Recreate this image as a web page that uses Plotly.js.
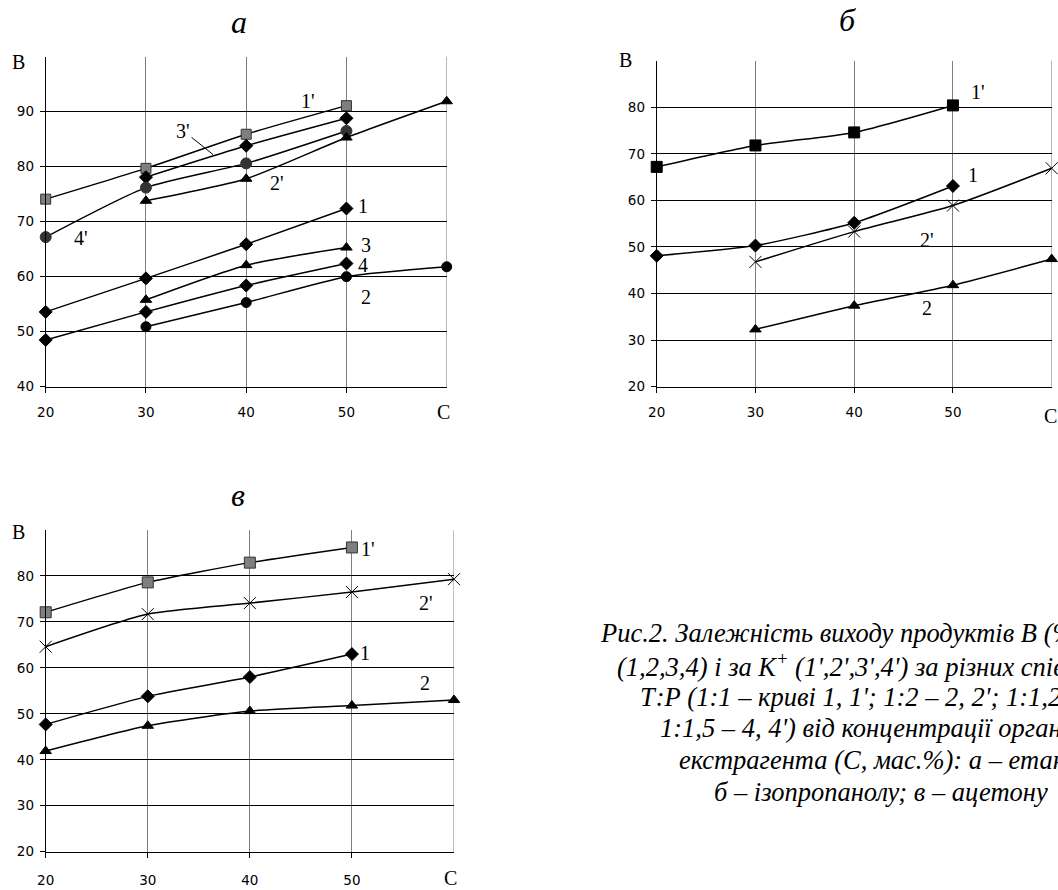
<!DOCTYPE html>
<html>
<head>
<meta charset="utf-8">
<script src="https://cdn.plot.ly/plotly-3.0.1.min.js"></script>
<style>html,body{margin:0;padding:0;background:#fff;overflow:hidden;}#chart{width:1058px;height:890px;}</style>
</head>
<body>
<div id="chart"></div>
<script>
// Concentration of extractant, C (mass %)
const conc = [20, 30, 40, 50, 60];
const xTickVals = [20, 30, 40, 50];
const xTickText = ['20', '30', '40', '50'];
const yTicksA = [40, 50, 60, 70, 80, 90];
const yTicksBV = [20, 30, 40, 50, 60, 70, 80];

// а – ethanol
const a1  = [53.6, 59.7, 65.9, 72.4, null];
const a2  = [null, 50.9, 55.3, 60.0, 61.8];
const a3  = [null, 55.8, 62.1, 65.3, null];
const a4  = [48.5, 53.6, 58.4, 62.4, null];
const a1p = [74.1, 79.7, 85.9, 91.1, null];
const a2p = [null, 73.8, 77.8, 85.3, 91.9];
const a3p = [null, 78.1, 83.8, 88.8, null];
const a4p = [67.2, 76.2, 80.6, 86.5, null];

// б – isopropanol
const b1  = [48.1, 50.3, 55.2, 63.1, null];
const b2  = [null, 32.3, 37.4, 41.8, 47.4];
const b1p = [67.2, 71.8, 74.6, 80.4, null];
const b2p = [null, 46.8, 53.3, 58.9, 66.9];

// в – acetone
const v1  = [47.7, 53.8, 58.0, 63.0, null];
const v2  = [41.9, 47.4, 50.6, 51.8, 53.0];
const v1p = [72.1, 78.6, 82.9, 86.2, null];
const v2p = [64.6, 71.7, 74.1, 76.5, 79.3];

const captionLines = [
  "Рис.2. Залежність виходу продуктів В (%) за К",
  "(1,2,3,4) і за К<sup>+</sup> (1',2',3',4') за різних співвідношень",
  "Т:Р (1:1 – криві 1, 1'; 1:2 – 2, 2'; 1:1,2 – 3, 3';",
  "1:1,5 – 4, 4') від концентрації органічного",
  "екстрагента (С, мас.%): а – етанолу;",
  "б – ізопропанолу; в – ацетону"
];

const W = 1058, H = 890;
const px = v => v / W;
const py = v => 1 - v / H;
const serif = 'Liberation Serif, Times New Roman, serif';
const sans = 'DejaVu Sans, Liberation Sans, Arial, sans-serif';

function series(y, sym, xa, ya, fill, outline, size) {
  const open = sym === 'x-thin';
  return {
    x: conc, y: y, xaxis: xa, yaxis: ya, type: 'scatter', mode: 'lines+markers',
    line: {color: '#000', width: 1.5, shape: 'spline', smoothing: 0.6},
    marker: open ? {symbol: 'x-thin-open', size: size || 12, line: {color: '#000', width: 1}}
                 : {symbol: sym, size: size || 10, color: fill, line: {color: outline, width: 1}},
    cliponaxis: false, showlegend: false, hoverinfo: 'x+y'
  };
}

const traces = [
  series(a1p, 'square', 'x', 'y', '#7f7f7f', '#333', 10),
  series(a3p, 'diamond', 'x', 'y', '#000', '#000', 10),
  series(a4p, 'circle', 'x', 'y', '#333', '#333', 11),
  series(a2p, 'triangle-up', 'x', 'y', '#000', '#000', 10),
  series(a1, 'diamond', 'x', 'y', '#000', '#000', 10),
  series(a3, 'triangle-up', 'x', 'y', '#000', '#000', 10),
  series(a4, 'diamond', 'x', 'y', '#000', '#000', 10),
  series(a2, 'circle', 'x', 'y', '#000', '#000', 10),

  series(b1p, 'square', 'x2', 'y2', '#000', '#000', 11),
  series(b1, 'diamond', 'x2', 'y2', '#000', '#000', 10),
  series(b2p, 'x-thin', 'x2', 'y2'),
  series(b2, 'triangle-up', 'x2', 'y2', '#000', '#000', 10),

  series(v1p, 'square', 'x3', 'y3', '#7f7f7f', '#333', 11),
  series(v2p, 'x-thin', 'x3', 'y3'),
  series(v1, 'diamond', 'x3', 'y3', '#000', '#000', 10),
  series(v2, 'triangle-up', 'x3', 'y3', '#000', '#000', 10)
];

function xAxis(domain, anchor, standoff) {
  return {
    domain: domain, anchor: anchor, range: [20, 60], tickvals: xTickVals, ticktext: xTickText,
    showgrid: true, gridcolor: '#808080', gridwidth: 1, zeroline: false,
    showline: true, linecolor: '#000', linewidth: 1, ticks: 'outside', ticklen: 5, tickcolor: '#000',
    ticklabelstandoff: standoff, tickfont: {family: sans, size: 13.5, color: '#000'}, fixedrange: true
  };
}
function yAxis(domain, anchor, range, ticks) {
  return {
    domain: domain, anchor: anchor, range: range, tickvals: ticks,
    showgrid: true, gridcolor: '#000', gridwidth: 1, zeroline: false,
    showline: true, linecolor: '#000', linewidth: 1, ticks: 'outside', ticklen: 5, tickcolor: '#000',
    ticklabelstandoff: 3, tickfont: {family: sans, size: 13.5, color: '#000'}, fixedrange: true
  };
}

// right-hand frame line at C = 60
function rightEdge(xr, yr) {
  return {type: 'line', xref: xr, yref: yr + ' domain', x0: 60, x1: 60, y0: 0, y1: 1,
    line: {color: '#808080', width: 1}, layer: 'below'};
}

const ann = [];
function label(text, x, y, xr, yr, size) {
  ann.push({text: text, x: x, y: y, xref: xr, yref: yr, showarrow: false,
    font: {family: serif, size: size || 20, color: '#000'}, xanchor: 'center', yanchor: 'middle'});
}
// panel titles
label('<i>а</i>', px(239), py(22), 'paper', 'paper', 32);
label('<i>б</i>', px(847), py(20), 'paper', 'paper', 32);
label('<i>в</i>', px(238), py(495), 'paper', 'paper', 32);
// axis letters
label('B', px(18), py(62), 'paper', 'paper', 20);
label('C', px(443), py(412), 'paper', 'paper', 20);
label('B', px(625), py(60), 'paper', 'paper', 20);
label('C', px(1050), py(416), 'paper', 'paper', 20);
label('B', px(18), py(532), 'paper', 'paper', 20);
label('C', px(450), py(878), 'paper', 'paper', 20);
// curve labels, panel а
label("1'", 46.2, 92.0, 'x', 'y');
label("2'", 43.1, 77.0, 'x', 'y');
label("4'", 23.5, 67.0, 'x', 'y');
label('1', 51.7, 72.8, 'x', 'y');
label('3', 51.9, 65.7, 'x', 'y');
label('4', 51.7, 62.1, 'x', 'y');
label('2', 51.9, 56.3, 'x', 'y');
ann.push({text: "3'", x: 36.7, y: 82.2, xref: 'x', yref: 'y', showarrow: true, arrowhead: 0,
  arrowwidth: 1, arrowcolor: '#000', ax: -30, ay: -24, standoff: 0, startstandoff: 0,
  font: {family: serif, size: 20, color: '#000'}});
// panel б
label("1'", 52.5, 83.2, 'x2', 'y2');
label('1', 52.0, 65.4, 'x2', 'y2');
label("2'", 47.4, 51.6, 'x2', 'y2');
label('2', 47.4, 36.8, 'x2', 'y2');
// panel в
label("1'", 51.6, 85.9, 'x3', 'y3');
label("2'", 57.3, 74.1, 'x3', 'y3');
label('1', 51.3, 63.2, 'x3', 'y3');
label('2', 57.2, 56.7, 'x3', 'y3');

// caption (left-aligned lines, running past the right edge as in the scan)
const capX = [598, 615, 638, 658, 677, 712];
const capY = [633, 665, 697, 728, 760, 792];
captionLines.forEach((t, i) => {
  ann.push({text: '<i>' + t + '</i>', x: px(capX[i]), y: py(capY[i]), xref: 'paper', yref: 'paper',
    showarrow: false, xanchor: 'left', yanchor: 'middle', font: {family: serif, size: 26.5, color: '#000'}});
});

const layout = {
  width: W, height: H, margin: {l: 0, r: 0, t: 0, b: 0},
  paper_bgcolor: '#fff', plot_bgcolor: '#fff', showlegend: false,
  xaxis: xAxis([px(45.7), px(446.7)], 'y', 8),
  yaxis: yAxis([py(386.7), py(56.7)], 'x', [40, 100], yTicksA),
  xaxis2: xAxis([px(656.7), px(1051.7)], 'y2', 8),
  yaxis2: yAxis([py(386.7), py(60.7)], 'x2', [20, 90], yTicksBV),
  xaxis3: xAxis([px(45.7), px(454)], 'y3', 11),
  yaxis3: yAxis([py(851.7), py(530)], 'x3', [20, 90], yTicksBV),
  shapes: [rightEdge('x', 'y'), rightEdge('x2', 'y2'), rightEdge('x3', 'y3')],
  annotations: ann
};

Plotly.newPlot('chart', traces, layout, {displayModeBar: false, staticPlot: true});
</script>
</body>
</html>
